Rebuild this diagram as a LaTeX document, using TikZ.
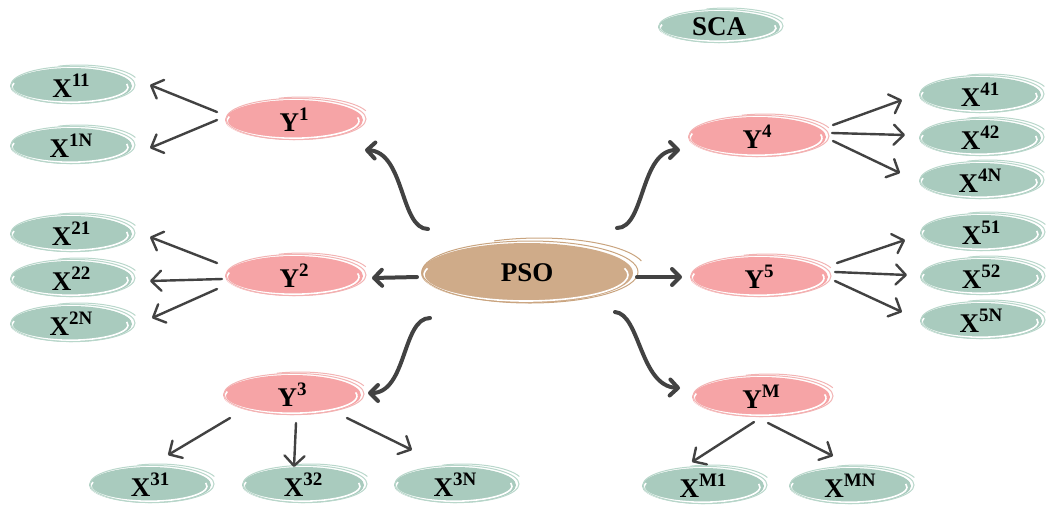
\documentclass[tikz,border=0pt]{standalone}
\usepackage{fontspec}
\setmainfont{Liberation Serif}
\usetikzlibrary{shapes.geometric,arrows.meta}
\definecolor{xg}{HTML}{A9CBBE}
\definecolor{xl}{HTML}{B9D7CB}
\definecolor{yp}{HTML}{F6A4A6}
\definecolor{yl}{HTML}{F2B4B4}
\definecolor{pc}{HTML}{CFAB89}
\definecolor{pl}{HTML}{C9A47F}
\definecolor{ag}{HTML}{424242}
\newcommand\sps[1]{\raisebox{0.42em}{\fontsize{9.5}{9.5}\selectfont #1}}
\begin{document}
\begin{tikzpicture}[x=0.5pt,y=-0.5pt,
  ell/.style={ellipse, inner sep=0pt, font=\bfseries\fontsize{13.5}{15}\selectfont},
  xn/.style={ell, fill=xg, minimum width=61pt, minimum height=18pt},
  yn/.style={ell, fill=yp, minimum width=69pt, minimum height=20pt},
  pn/.style={ell, fill=pc, minimum width=106pt, minimum height=30pt},
  sn/.style={ell, fill=xg, minimum width=61pt, minimum height=16pt},
  thinarr/.style={draw=ag, line width=1.2pt, line cap=round,
    -{Straight Barb[length=5pt,width=10pt,round]}},
  thickarr/.style={draw=ag, line width=2pt, line cap=round,
    -{Straight Barb[length=4pt,width=8pt,round]}},
  ring/.style={line width=0.8pt, white},
  rim/.style={line width=0.5pt}
]
\useasboundingbox (0,0) rectangle (1047,510);

% ---- nodes ----
\node[sn] (SCA) at (719,27) {SCA};

\node[xn] (X11) at (71,86) {X\sps{11}};
\node[xn] (X1N) at (71,146) {X\sps{1N}};
\node[xn] (X21) at (71,234) {X\sps{21}};
\node[xn] (X22) at (71,279) {X\sps{22}};
\node[xn] (X2N) at (71,324) {X\sps{2N}};
\node[xn] (X31) at (150,485) {X\sps{31}};
\node[xn] (X32) at (303,485) {X\sps{32}};
\node[xn] (X3N) at (455,485) {X\sps{3N}};
\node[xn] (X41) at (980,95) {X\sps{41}};
\node[xn] (X42) at (980,138) {X\sps{42}};
\node[xn] (X4N) at (980,181) {X\sps{4N}};
\node[xn] (X51) at (981,233) {X\sps{51}};
\node[xn] (X52) at (981,277) {X\sps{52}};
\node[xn] (X5N) at (981,321) {X\sps{5N}};
\node[xn] (XM1) at (703,486) {X\sps{M1}};
\node[xn] (XMN) at (850,486) {X\sps{MN}};

\node[yn] (Y1) at (294,120) {Y\sps{1}};
\node[yn] (Y2) at (294,276) {Y\sps{2}};
\node[yn] (Y3) at (292,395) {Y\sps{3}};
\node[yn] (Y4) at (757,137) {Y\sps{4}};
\node[yn] (Y5) at (759,277) {Y\sps{5}};
\node[yn] (YM) at (761,397) {Y\sps{M}};

\node[pn] (PSO) at (527,273) {PSO};

% ---- hand-drawn rims: a white stroke along the lower edge, a pale outline and a loose top stroke ----
\foreach \n in {X11,X1N,X21,X22,X2N,X31,X32,X3N,X41,X42,X4N,X51,X52,X5N,XM1,XMN}{
  \draw[ring] ([shift={(-1,1)}]\n.center) ++(165:29pt and 7.6pt) arc[start angle=165,end angle=372,x radius=29pt,y radius=7.6pt];
  \draw[rim,xl] ([shift={(2,-1)}]\n.center) ellipse (31pt and 9.3pt);
  \draw[rim,xl] ([shift={(8,-2)}]\n.center) ++(20:30pt and 9.5pt) arc[start angle=20,end angle=110,x radius=30pt,y radius=9.5pt];
}
\draw[ring] ([shift={(-1,1)}]SCA.center) ++(165:29pt and 6.6pt) arc[start angle=165,end angle=372,x radius=29pt,y radius=6.6pt];
\draw[rim,xl] ([shift={(2,-1)}]SCA.center) ellipse (31pt and 8.3pt);
\draw[rim,xl] ([shift={(8,-2)}]SCA.center) ++(20:30pt and 8.5pt) arc[start angle=20,end angle=110,x radius=30pt,y radius=8.5pt];
\foreach \n in {Y1,Y2,Y3,Y4,Y5,YM}{
  \draw[ring] ([shift={(-1,1)}]\n.center) ++(165:33pt and 8.6pt) arc[start angle=165,end angle=372,x radius=33pt,y radius=8.6pt];
  \draw[rim,yl] ([shift={(2,-1)}]\n.center) ellipse (35pt and 10.3pt);
  \draw[rim,yl] ([shift={(8,-2)}]\n.center) ++(20:34pt and 10.5pt) arc[start angle=20,end angle=110,x radius=34pt,y radius=10.5pt];
}
\draw[ring] ([shift={(-1,2)}]PSO.center) ++(165:51pt and 13pt) arc[start angle=165,end angle=375,x radius=51pt,y radius=13pt];
\draw[rim,pl] ([shift={(3,-1)}]PSO.center) ellipse (54pt and 15.5pt);
\draw[rim,pl] ([shift={(12,-4)}]PSO.center) ++(15:53pt and 15.5pt) arc[start angle=15,end angle=115,x radius=53pt,y radius=15.5pt];

% ---- PSO to second level ----
\draw[thickarr] ([shift={(-99,-44)}]PSO.center) .. controls (400,229) and (405,152) .. ([shift={(71,30)}]Y1.center);
\draw[thickarr] ([shift={(-110,4)}]PSO.center) -- ([shift={(78,2)}]Y2.center);
\draw[thickarr] ([shift={(-97,45)}]PSO.center) .. controls (402,318) and (407,393) .. ([shift={(76,-2)}]Y3.center);
\draw[thickarr] ([shift={(90,-45)}]PSO.center) .. controls (645,228) and (640,150) .. ([shift={(-77,13)}]Y4.center);
\draw[thickarr] ([shift={(110,4)}]PSO.center) -- ([shift={(-77,0)}]Y5.center);
\draw[thickarr] ([shift={(88,39)}]PSO.center) .. controls (640,314) and (640,386) .. ([shift={(-81,-9)}]YM.center);

% ---- second level to leaves ----
\draw[thinarr] ([shift={(-77,-8)}]Y1.center) -- ([shift={(79,-1)}]X11.center);
\draw[thinarr] ([shift={(-77,0)}]Y1.center) -- ([shift={(79,2)}]X1N.center);

\draw[thinarr] ([shift={(-77,-13)}]Y2.center) -- ([shift={(79,3)}]X21.center);
\draw[thinarr] ([shift={(-72,3)}]Y2.center) -- ([shift={(79,2)}]X22.center);
\draw[thinarr] ([shift={(-77,13)}]Y2.center) -- ([shift={(81,-6)}]X2N.center);

\draw[thinarr] ([shift={(-62,23)}]Y3.center) -- ([shift={(18,-30)}]X31.center);
\draw[thinarr] ([shift={(4,28)}]Y3.center) -- ([shift={(-9,-18)}]X32.center);
\draw[thinarr] ([shift={(55,23)}]Y3.center) -- ([shift={(-43,-35)}]X3N.center);

\draw[thinarr] ([shift={(76,-12)}]Y4.center) -- ([shift={(-78,5)}]X41.center);
\draw[thinarr] ([shift={(75,-4)}]Y4.center) -- ([shift={(-75,-3)}]X42.center);
\draw[thinarr] ([shift={(76,4)}]Y4.center) -- ([shift={(-80,-8)}]X4N.center);

\draw[thinarr] ([shift={(78,-14)}]Y5.center) -- ([shift={(-76,7)}]X51.center);
\draw[thinarr] ([shift={(76,-5)}]Y5.center) -- ([shift={(-74,-2)}]X52.center);
\draw[thinarr] ([shift={(76,4)}]Y5.center) -- ([shift={(-79,-9)}]X5N.center);

\draw[thinarr] ([shift={(-7,25)}]YM.center) -- ([shift={(-11,-24)}]XM1.center);
\draw[thinarr] ([shift={(7,26)}]YM.center) -- ([shift={(-17,-30)}]XMN.center);
\end{tikzpicture}
\end{document}
